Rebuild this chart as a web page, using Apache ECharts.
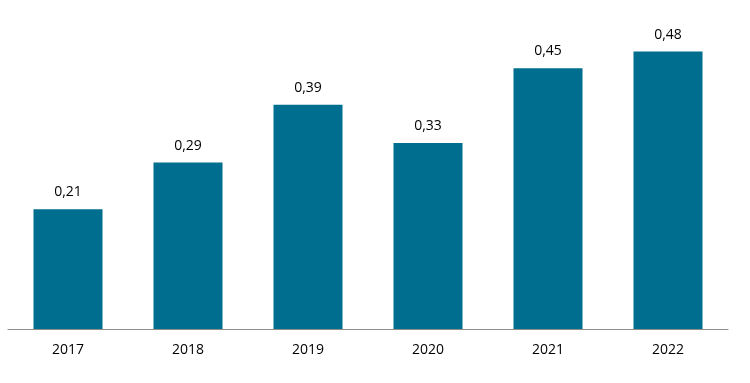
<!DOCTYPE html>
<html><head><meta charset="utf-8">
<script src="https://cdn.jsdelivr.net/npm/echarts@6/dist/echarts.min.js"></script>
<style>html,body{margin:0;padding:0;background:#fff}#c{width:750px;height:383px}</style>
</head><body><div id="c"></div>
<script>
var categories = ['2017','2018','2019','2020','2021','2022'];
var values = [0.207, 0.288, 0.388, 0.322, 0.451, 0.48];
var valueLabels = ['0,21','0,29','0,39','0,33','0,45','0,48'];
var chart = echarts.init(document.getElementById('c'), null, {renderer:'canvas'});
chart.setOption({
  animation:false,
  grid:{left:8, right:22, top:40, bottom:54, containLabel:false},
  xAxis:{type:'category', data:categories,
    axisLine:{lineStyle:{color:'#8c8c8c', width:1}},
    axisTick:{show:false},
    axisLabel:{color:'#000', fontSize:14, fontFamily:'Open Sans', margin:14}},
  yAxis:{type:'value', min:0, max:0.5, show:false, splitLine:{show:false}},
  series:[{type:'bar', data:values, barCategoryGap:'42.5%',
    itemStyle:{color:'#006E8F'},
    label:{show:true, position:'top', distance:10, color:'#000', fontSize:14, fontFamily:'Open Sans',
      formatter:function(p){return valueLabels[p.dataIndex];}}}]
});
</script></body></html>
